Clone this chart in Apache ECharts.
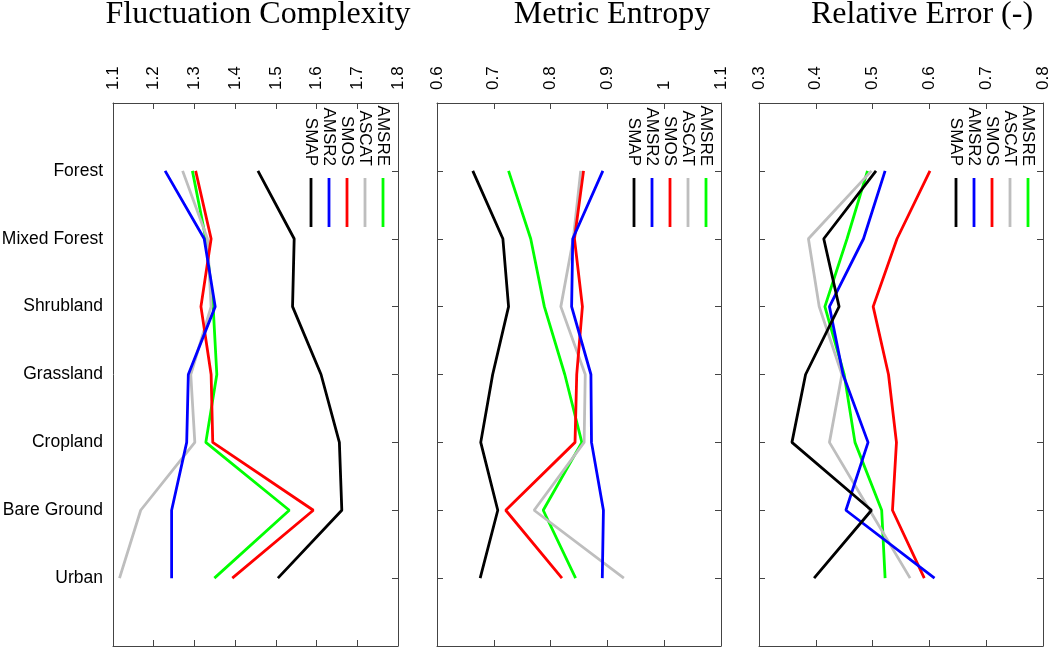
<!DOCTYPE html>
<html>
<head>
<meta charset="utf-8">
<script src="https://cdn.jsdelivr.net/npm/echarts@6/dist/echarts.min.js"></script>
<style>html,body{margin:0;padding:0;background:#fff;overflow:hidden;}#c{width:1050px;height:648px;}</style>
</head>
<body>
<div id="c"></div>
<script>
const categories = ['Forest','Mixed Forest','Shrubland','Grassland','Cropland','Bare Ground','Urban'];
const seriesNames = ['AMSRE','ASCAT','SMOS','AMSR2','SMAP'];
const seriesColors = ['#00ff00','#bebebe','#ff0000','#0000ff','#000000'];
const panelTitles = ['Fluctuation Complexity','Metric Entropy','Relative Error (-)'];
const axisMins = [1.1, 0.6, 0.3];
const axisMaxs = [1.8, 1.1, 0.8];

// Fluctuation Complexity
const fcAMSRE = [1.295, 1.328, 1.346, 1.355, 1.328, 1.533, 1.349];
const fcASCAT = [1.271, 1.332, 1.341, 1.291, 1.301, 1.168, 1.116];
const fcSMOS  = [1.303, 1.341, 1.316, 1.341, 1.345, 1.592, 1.393];
const fcAMSR2 = [1.228, 1.324, 1.351, 1.285, 1.281, 1.244, 1.244];
const fcSMAP  = [1.456, 1.545, 1.541, 1.611, 1.656, 1.662, 1.505];
// Metric Entropy
const meAMSRE = [0.726, 0.765, 0.789, 0.825, 0.855, 0.787, 0.844];
const meASCAT = [0.853, 0.840, 0.818, 0.861, 0.859, 0.771, 0.929];
const meSMOS  = [0.858, 0.842, 0.856, 0.846, 0.843, 0.721, 0.820];
const meAMSR2 = [0.892, 0.839, 0.837, 0.871, 0.872, 0.893, 0.891];
const meSMAP  = [0.663, 0.716, 0.726, 0.698, 0.677, 0.707, 0.676];
// Relative Error
const reAMSRE = [0.491, 0.455, 0.416, 0.450, 0.469, 0.516, 0.522];
const reASCAT = [0.498, 0.387, 0.406, 0.446, 0.424, 0.495, 0.566];
const reSMOS  = [0.601, 0.543, 0.501, 0.528, 0.542, 0.535, 0.591];
const reAMSR2 = [0.522, 0.484, 0.424, 0.448, 0.492, 0.453, 0.609];
const reSMAP  = [0.506, 0.414, 0.441, 0.382, 0.358, 0.498, 0.397];

const panelData = [
  [fcAMSRE, fcASCAT, fcSMOS, fcAMSR2, fcSMAP],
  [meAMSRE, meASCAT, meSMOS, meAMSR2, meSMAP],
  [reAMSRE, reASCAT, reSMOS, reAMSR2, reSMAP]
];

const gridLefts = [113, 437, 759];
const gridWidth = [285, 284, 284];
const gridTop = 103, gridHeight = 543;
const titleX = [258, 612, 922];
const frameColor = '#444';
const sans = 'Liberation Sans, Arial, Helvetica, sans-serif';
const serif = 'Liberation Serif, Times New Roman, serif';

const yCats = [''].concat(categories).concat([' ']);

const grids = [], xAxes = [], yAxes = [], series = [], graphics = [];
for (let p = 0; p < 3; p++) {
  grids.push({left: gridLefts[p], top: gridTop, width: gridWidth[p], height: gridHeight,
    containLabel: false, outerBoundsMode: 'none'});
  const xBase = {type: 'value', gridIndex: p, min: axisMins[p], max: axisMaxs[p], interval: 0.1,
    splitLine: {show: false},
    axisLine: {show: true, lineStyle: {color: frameColor, width: 1}},
    axisTick: {show: true, inside: true, length: 6, lineStyle: {color: frameColor}}};
  xAxes.push(Object.assign({}, xBase, {position: 'top',
    axisLabel: {show: true, rotate: -90, margin: 13, fontSize: 17, color: '#000', fontFamily: sans}}));
  xAxes.push(Object.assign({}, xBase, {position: 'bottom', axisLabel: {show: false}}));
  const yBase = {type: 'category', gridIndex: p, data: yCats, boundaryGap: false, inverse: true,
    splitLine: {show: false},
    axisLine: {show: true, lineStyle: {color: frameColor, width: 1}}};
  yAxes.push(Object.assign({}, yBase, {position: 'left',
    axisTick: {show: p !== 0, inside: true, length: 6, lineStyle: {color: frameColor}},
    axisLabel: {show: p === 0, margin: 10, fontSize: 17.5, color: '#000', fontFamily: sans, interval: 0}}));
  yAxes.push(Object.assign({}, yBase, {position: 'right',
    axisTick: {show: true, inside: true, length: 6, lineStyle: {color: frameColor}},
    axisLabel: {show: false}}));
  for (let s = 0; s < seriesNames.length; s++) {
    const vals = panelData[p][s];
    series.push({type: 'line', name: seriesNames[s], xAxisIndex: 2 * p, yAxisIndex: 2 * p,
      data: categories.map((c, i) => [vals[i], c]), symbol: 'none', silent: true,
      lineStyle: {color: seriesColors[s], width: 2.8}, z: 2 + s});
  }
  // title
  graphics.push({type: 'text', x: titleX[p], y: 15, style: {text: panelTitles[p], fill: '#000',
    font: '32px ' + serif, align: 'center', verticalAlign: 'middle'}});
  // legend (rotated)
  const right = gridLefts[p] + gridWidth[p];
  for (let s = 0; s < seriesNames.length; s++) {
    const lx = right - 15 - 18 * s;
    graphics.push({type: 'line', shape: {x1: lx, y1: 178, x2: lx, y2: 227},
      style: {stroke: seriesColors[s], lineWidth: 2.8}});
    graphics.push({type: 'text', x: lx, y: 166, rotation: -Math.PI / 2,
      style: {text: seriesNames[s], fill: '#000', font: '17px ' + sans, align: 'right', verticalAlign: 'middle'}});
  }
}

const chart = echarts.init(document.getElementById('c'), null, {renderer: 'canvas'});
chart.setOption({
  animation: false,
  backgroundColor: '#fff',
  grid: grids,
  xAxis: xAxes,
  yAxis: yAxes,
  series: series,
  graphic: graphics
});
</script>
</body>
</html>
